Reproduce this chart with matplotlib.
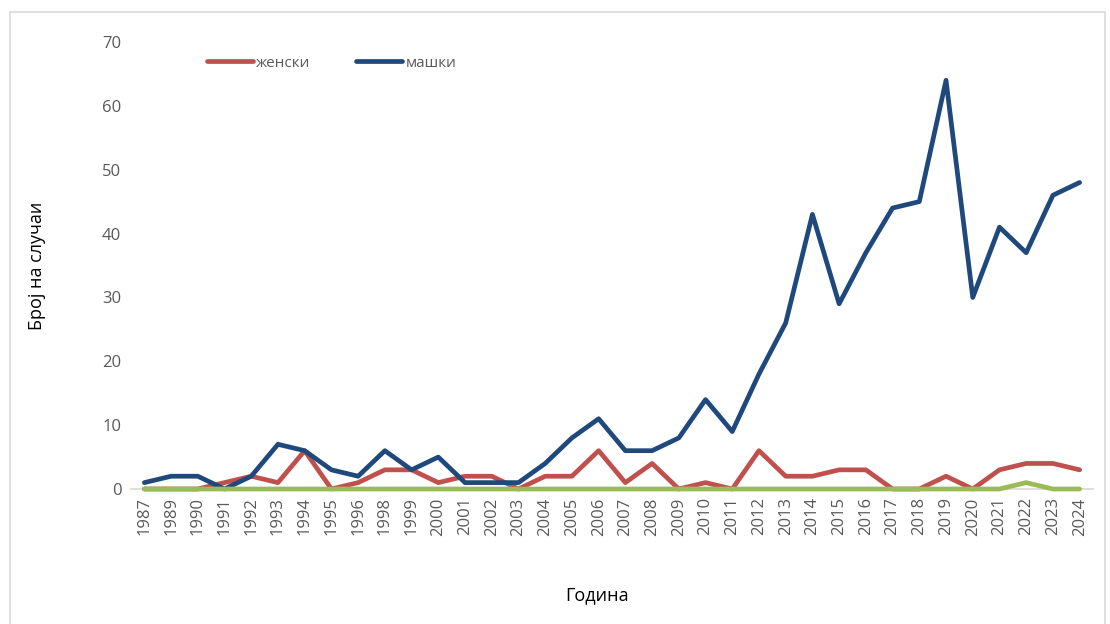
import matplotlib.pyplot as plt
from matplotlib.patches import Rectangle

# Години (1988 и 1997 ги нема во табелата)
years = ['1987', '1989', '1990', '1991', '1992', '1993', '1994', '1995', '1996',
         '1998', '1999', '2000', '2001', '2002', '2003', '2004', '2005', '2006',
         '2007', '2008', '2009', '2010', '2011', '2012', '2013', '2014', '2015',
         '2016', '2017', '2018', '2019', '2020', '2021', '2022', '2023', '2024']

zenski = [0, 0, 0, 1, 2, 1, 6, 0, 1, 3, 3, 1, 2, 2, 0, 2, 2, 6,
          1, 4, 0, 1, 0, 6, 2, 2, 3, 3, 0, 0, 2, 0, 3, 4, 4, 3]

mashki = [1, 2, 2, 0, 2, 7, 6, 3, 2, 6, 3, 5, 1, 1, 1, 4, 8, 11,
          6, 6, 8, 14, 9, 18, 26, 43, 29, 37, 44, 45, 64, 30, 41, 37, 46, 48]

nepoznat = [0] * 33 + [1, 0, 0]

RED = '#C0504D'
BLUE = '#1F497D'
GREEN = '#9BBB59'
TXT = '#595959'

plt.rcParams['font.family'] = ['Open Sans', 'DejaVu Sans']

fig = plt.figure(figsize=(11.1, 6.24), dpi=100)
ax = fig.add_axes([131 / 1110, 1 - 489 / 624, (1093 - 131) / 1110, (489 - 42) / 624])

# border around the chart area
fig.patches.append(Rectangle((10 / 1110, -0.05), 1095 / 1110, 1.05 - 12 / 624,
                             transform=fig.transFigure, fill=False,
                             edgecolor='#D9D9D9', linewidth=1.2))

ax.spines['bottom'].set_color('#D9D9D9')
ax.spines['bottom'].set_linewidth(1.2)
ax.spines['bottom'].set_zorder(1)

x = range(len(years))
style = dict(lw=3.4, solid_capstyle='round', solid_joinstyle='round', clip_on=False, zorder=3)
ax.plot(x, zenski, color=RED, label='женски', **style)
ax.plot(x, mashki, color=BLUE, label='машки', **style)
ax.plot(x, nepoznat, color=GREEN, **style)

ax.set_xlim(-0.5, len(years) - 0.5)
ax.set_ylim(0, 70)
ax.set_yticks(range(0, 71, 10))
ax.set_xticks(list(x))
ax.set_xticklabels(years, rotation=90)
ax.tick_params(axis='both', length=0, colors=TXT, labelsize=12)
ax.tick_params(axis='y', pad=7)
ax.tick_params(axis='x', pad=6)

for s in ['top', 'right', 'left']:
    ax.spines[s].set_visible(False)

ax.set_ylabel('Број на случаи', fontsize=13, color='#000000', labelpad=40)
fig.text(597 / 1110, 1 - 595 / 624, 'Година', fontsize=13, ha='center', va='center')

ax.legend(loc='upper left', bbox_to_anchor=(0.065, 1.0), ncol=2, frameon=False,
          fontsize=11, labelcolor=TXT, handlelength=3.0, handletextpad=0.2,
          columnspacing=3.0)

fig.savefig('out.png', dpi=100)
